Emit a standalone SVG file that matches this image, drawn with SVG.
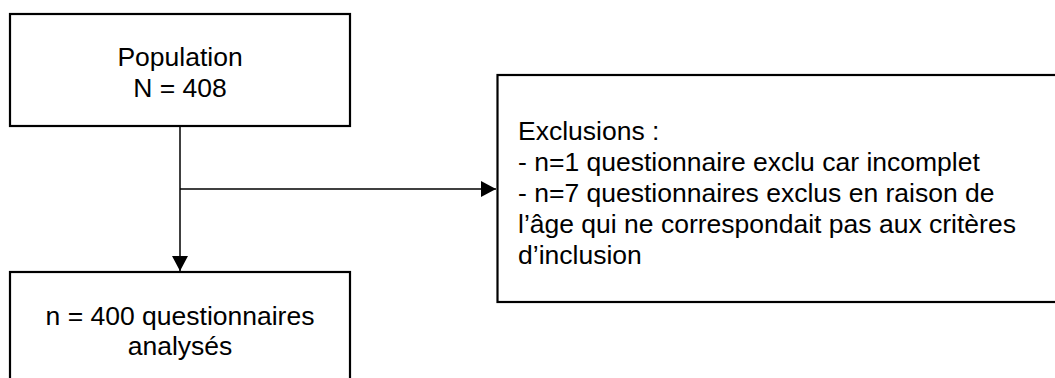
<svg xmlns="http://www.w3.org/2000/svg" width="1055" height="378" viewBox="0 0 1055 378">
<style>
.box{fill:#fff;stroke:#000;stroke-width:2.2}
.t{font-family:"Liberation Sans",Arial,sans-serif;font-size:26.5px;fill:#000}
.c{text-anchor:middle}
.ln{stroke:#000;stroke-width:1.5;fill:none}
</style>
<defs>
<marker id="ah" markerWidth="16" markerHeight="16" refX="15" refY="8" orient="auto" markerUnits="userSpaceOnUse">
<path d="M0,0 L15,8 L0,16 Z" fill="#000"/>
</marker>
</defs>
<rect width="1055" height="378" fill="#fff"/>
<g id="connectors">
<line class="ln" x1="180" y1="126" x2="180" y2="271" marker-end="url(#ah)"/>
<line class="ln" x1="180" y1="189" x2="496" y2="189" marker-end="url(#ah)"/>
</g>
<g id="population">
<rect class="box" x="10" y="14" width="340" height="112"/>
<text class="t c" x="180" y="66">Population</text>
<text class="t c" x="180" y="97">N = 408</text>
</g>
<g id="exclusions">
<rect class="box" x="497.5" y="75" width="600" height="227"/>
<text class="t" x="518" y="140">Exclusions :</text>
<text class="t" x="518" y="171">- n=1 questionnaire exclu car incomplet</text>
<text class="t" x="518" y="202">- n=7 questionnaires exclus en raison de</text>
<text class="t" x="518" y="233">l’âge qui ne correspondait pas aux critères</text>
<text class="t" x="518" y="264">d’inclusion</text>
</g>
<g id="analyses">
<rect class="box" x="10" y="272" width="340" height="120"/>
<text class="t c" x="180" y="325">n = 400 questionnaires</text>
<text class="t c" x="180" y="355">analysés</text>
</g>
</svg>
